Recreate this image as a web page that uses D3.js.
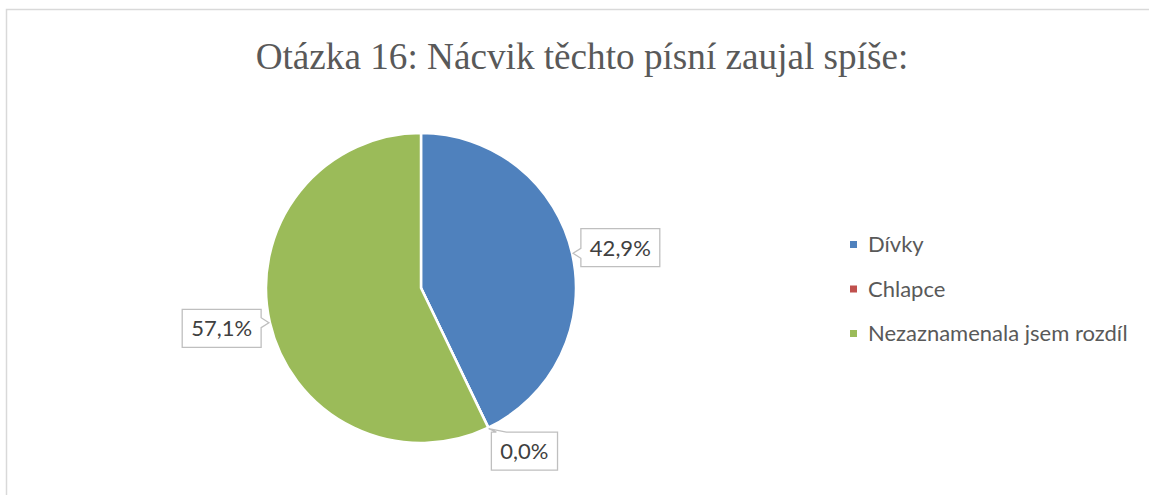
<!DOCTYPE html>
<html>
<head>
<meta charset="utf-8">
<script src="https://cdn.jsdelivr.net/npm/d3@7"></script>
<style>
  body { margin: 0; background: #fff; }
  svg { display: block; }
</style>
</head>
<body>
<div id="chart"></div>
<script>
// chart data
const title = "Otázka 16: Nácvik těchto písní zaujal spíše:";
const categories = ["Dívky", "Chlapce", "Nezaznamenala jsem rozdíl"];
const counts = [3, 0, 4];
const colors = ["#4f81bd", "#c0504d", "#9bbb59"];

const W = 1149, H = 495;
const cx = 421, cy = 288, r = 155;

const svg = d3.select("#chart").append("svg")
  .attr("width", W)
  .attr("height", H);

// chart frame (only top and left edges fall inside the picture)
svg.append("rect")
  .attr("x", 6.5).attr("y", 9.5)
  .attr("width", W + 20).attr("height", H + 20)
  .attr("fill", "#fff")
  .attr("stroke", "#d9d9d9")
  .attr("stroke-width", 1.5);

svg.append("text")
  .attr("x", 582)
  .attr("y", 69)
  .attr("text-anchor", "middle")
  .style("font-family", "'Liberation Serif', 'Times New Roman', serif")
  .style("font-size", "37.2px")
  .attr("fill", "#595959")
  .text(title);

const data = categories.map((c, i) => ({ name: c, value: counts[i], color: colors[i] }));
const total = d3.sum(counts);
const fmt = (v) => d3.format(".1f")(v * 100 / total).replace(".", ",") + "%";

const pie = d3.pie().sort(null).value((d) => d.value);
const arcs = pie(data);
const arc = d3.arc().innerRadius(0).outerRadius(r);

const g = svg.append("g").attr("transform", `translate(${cx},${cy})`);

g.selectAll("path.slice")
  .data(arcs)
  .enter().append("path")
  .attr("class", "slice")
  .attr("d", arc)
  .attr("fill", (d) => d.data.color)
  .attr("stroke", "#fff")
  .attr("stroke-width", 2.5)
  .attr("stroke-linejoin", "round");

// data labels as callouts
const labelFont = "Lato, 'Open Sans', sans-serif";
const clamp = (v, lo, hi) => Math.max(lo, Math.min(hi, v));

arcs.forEach((a) => {
  let mid = (a.startAngle + a.endAngle) / 2;
  let dx = Math.sin(mid), dy = -Math.cos(mid);
  let tip = [cx + dx * (r + 1), cy + dy * (r + 1)];

  let t = svg.append("text")
    .style("font-family", labelFont)
    .style("font-size", "22px")
    .attr("fill", "#404040")
    .attr("text-anchor", "middle")
    .text(fmt(a.data.value));
  let tw = t.node().getComputedTextLength();
  let bw = tw + 18, bh = 38;

  let ox = Math.sign(dx) * (bw / 2 + 9) * Math.max(Math.abs(dx), 0.85);
  let oy = dy * (bh / 2 + 6);
  let bx = tip[0] + ox, by = tip[1] + oy;
  let x0 = bx - bw / 2, x1 = bx + bw / 2, y0 = by - bh / 2, y1 = by + bh / 2;

  let p;
  if (tip[0] > x1) {
    let c = clamp(tip[1], y0 + 10, y1 - 10);
    p = `M${x0},${y0}L${x1},${y0}L${x1},${c - 5}L${tip[0]},${tip[1]}L${x1},${c + 5}L${x1},${y1}L${x0},${y1}Z`;
  } else if (tip[0] < x0 && tip[1] > y0) {
    let c = clamp(tip[1], y0 + 10, y1 - 10);
    p = `M${x0},${y0}L${x1},${y0}L${x1},${y1}L${x0},${y1}L${x0},${c + 5}L${tip[0]},${tip[1]}L${x0},${c - 5}Z`;
  } else {
    let c = clamp(tip[0], x0 + 10, x1 - 10);
    p = `M${x0},${y0}L${c - 5},${y0}L${tip[0]},${tip[1]}L${c + 5},${y0}L${x1},${y0}L${x1},${y1}L${x0},${y1}Z`;
  }

  svg.insert("path", () => t.node())
    .attr("d", p)
    .attr("fill", "#fff")
    .attr("stroke", "#bfbfbf")
    .attr("stroke-width", 1.3);

  t.attr("x", bx).attr("y", by + 8);
});

// legend
const legend = svg.append("g").attr("transform", "translate(850,241)");
const item = legend.selectAll("g")
  .data(data)
  .enter().append("g")
  .attr("transform", (d, i) => `translate(0,${i * 44.5})`);

item.append("rect")
  .attr("width", 7).attr("height", 7)
  .attr("fill", (d) => d.color);

item.append("text")
  .attr("x", 18)
  .attr("y", 11)
  .style("font-family", labelFont)
  .style("font-size", "22px")
  .attr("fill", "#595959")
  .text((d) => d.name);
</script>
</body>
</html>
